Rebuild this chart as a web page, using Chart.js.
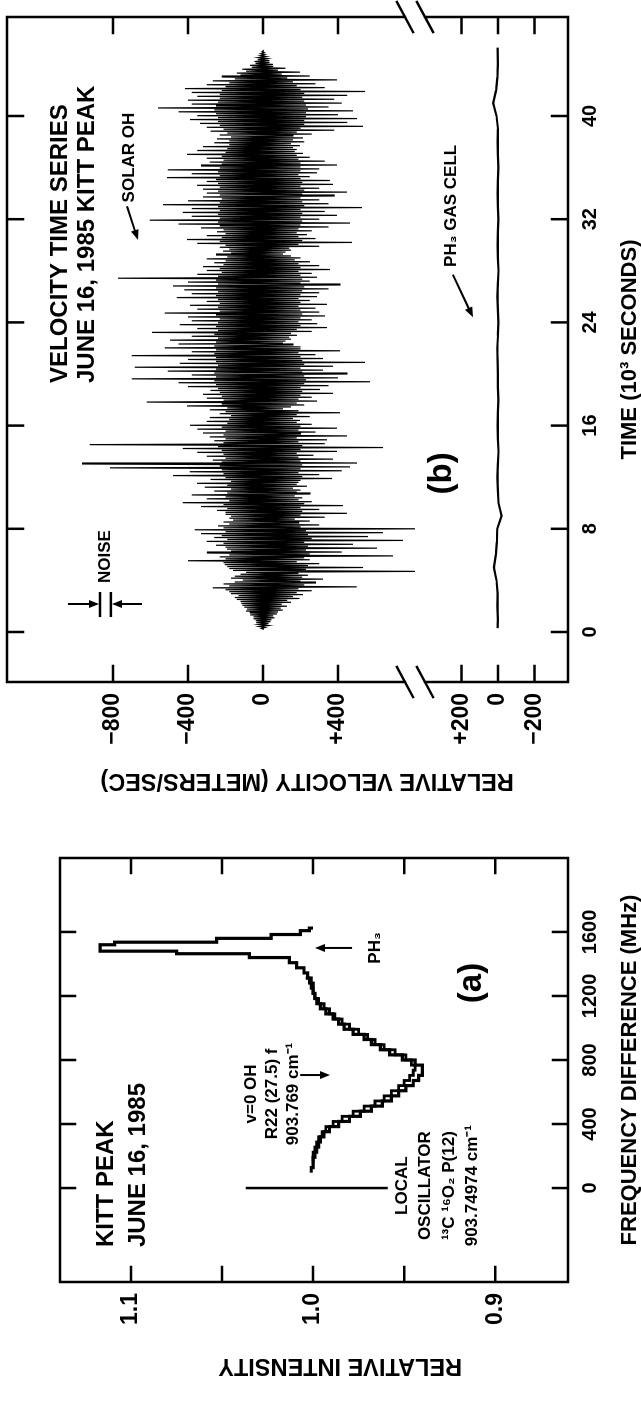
<!DOCTYPE html>
<html>
<head>
<meta charset="utf-8">
<title>Kitt Peak OH line and velocity time series</title>
<script src="https://cdn.jsdelivr.net/npm/chart.js@4.4.1/dist/chart.umd.min.js"></script>
<style>
  html, body { margin: 0; padding: 0; background: #fff; overflow: hidden; }
  /* the figure is laid out landscape and turned a quarter turn */
  #fig { position: absolute; left: 0; top: 0; width: 1427px; height: 641px;
         transform-origin: 0 0; transform: translateY(1427px) rotate(-90deg); }
  #chartA { position: absolute; left: 0; top: 0; }
  #chartB { position: absolute; left: 600px; top: 0; }
</style>
</head>
<body>
<div id="fig">
  <canvas id="chartA" width="600" height="641"></canvas>
  <canvas id="chartB" width="827" height="641"></canvas>
</div>
<script>
// ---- panel (a): line profile, frequency difference (MHz) vs relative intensity
const freqScan1 = [96,128,160,192,224,256,288,320,352,384,416,448,480,512,544,576,608,640,672,704,736,768,800,832,864,896,928,960,992,1024,1056,1088,1120,1152,1184,1216,1248,1280,1312,1344,1376,1408,1440,1464,1480,1520,1536,1560,1584,1608,1624];
const intensityScan1 = [1.001,1.000,1.000,0.999,0.998,0.997,0.996,0.994,0.991,0.986,0.980,0.974,0.968,0.962,0.957,0.953,0.949,0.945,0.942,0.940,0.940,0.944,0.951,0.958,0.963,0.968,0.972,0.978,0.983,0.986,0.989,0.993,0.996,0.998,0.999,1.000,1.000,1.001,1.003,1.005,1.009,1.013,1.035,1.075,1.117,1.109,1.053,1.023,1.007,1.002,1.000];
const freqScan2 = [160,192,224,256,288,320,352,384,416,448,480,512,544,576,608,640,672,704,736,768,800,832,864,896,928,960,992,1024,1056,1088,1120,1152,1184,1216,1248,1280,1312];
const intensityScan2 = [1.000,1.000,0.999,0.998,0.997,0.995,0.993,0.989,0.984,0.978,0.972,0.966,0.961,0.957,0.953,0.950,0.947,0.945,0.944,0.946,0.949,0.955,0.961,0.966,0.970,0.975,0.980,0.984,0.988,0.991,0.994,0.997,0.999,1.000,1.001,1.002,1.004];
const oscillatorLine = [{x: 0, y: 1.037}, {x: 0, y: 0.959}];

const freqTicks = [0, 400, 800, 1200, 1600];
const freqTickLabels = ['0', '400', '800', '1200', '1600'];
const intensityTicks = [0.9, 0.95, 1.0, 1.05, 1.1];
const intensityTickLabels = ['0.9', '', '1.0', '', '1.1'];

// ---- panel (b): velocity time series, time in 10^3 s, one sample every 75 s
const solarT0 = 0.2, solarDt = 0.075;
const solarVel = [
  5,-8,12,-20,28,-22,30,-35,40,-38,45,-50,62,-50,55,-68,75,-70,80,-90,105,-85,95,-100,128,-110,100,-115,150,-120,130,-140,195,-150,160,-130,213,-170,180,-180,
  260,-200,190,-267,500,-180,220,-210,280,-150,200,-107,320,-170,210,-150,240,-120,190,-90,821,-160,230,-180,533,-190,240,-203,300,-210,180,-400,250,-200,220,-230,693,-180,250,-299,
  420,-170,230,-192,608,-200,240,-250,480,-210,220,-299,747,-190,260,-260,560,-220,240,-330,640,-200,230,-363,837,-210,200,-240,300,-180,190,-210,250,-160,170,-180,330,-170,200,-200,
  448,-200,210,-245,300,-190,200,-330,427,-210,220,-427,260,-180,190,-300,210,-200,170,-379,251,-190,180,-260,200,-170,160,-310,235,-190,180,-352,190,-170,200,-280,368,-200,210,-480,
  300,-210,190,-390,420,-220,200,-816,464,-230,210,-965,501,-220,200,-267,373,-200,190,-300,270,-210,180,-350,395,-220,200,-427,640,-240,210,-923,330,-210,190,-260,341,-200,180,-283,
  448,-210,200,-320,280,-200,190,-350,395,-220,200,-389,260,-190,180,-300,197,-180,160,-283,250,-170,180,-230,411,-200,190,-283,107,-190,150,-405,220,-220,180,-619,288,-210,190,-300,
  260,-220,200,-320,373,-230,210,-280,304,-240,200,-400,350,-250,220,-450,571,-260,230,-699,400,-250,220,-380,448,-260,210,-507,320,-250,200,-683,373,-240,220,-443,544,-250,210,-400,
  320,-250,200,-699,280,-260,190,-380,411,-250,200,-523,200,-260,160,-450,107,-250,120,-496,150,-240,140,-380,181,-260,150,-592,260,-240,180,-350,341,-250,200,-443,290,-240,190,-380,
  260,-230,200,-400,331,-250,210,-523,300,-230,200,-350,280,-240,190,-389,341,-230,200,-300,250,-240,190,-459,288,-250,200,-380,300,-240,210,-420,350,-250,220,-480,411,-240,200,-400,
  250,-250,210,-773,288,-240,200,-350,260,-220,190,-300,357,-230,200,-320,300,-210,190,-260,251,-200,170,-299,200,-190,150,-250,107,-170,120,-213,150,-180,140,-230,300,-200,190,-350,
  475,-230,210,-405,280,-220,190,-300,235,-200,180,-245,260,-210,190,-330,350,-230,200,-450,464,-240,210,-603,300,-230,200,-380,395,-240,210,-427,330,-230,200,-380,528,-240,220,-533,
  350,-230,210,-400,300,-220,200,-320,380,-230,210,-300,448,-240,220,-320,300,-230,200,-352,373,-240,210,-300,357,-250,200,-512,250,-230,190,-380,288,-240,200,-507,300,-230,200,-330,
  395,-220,200,-283,330,-210,190,-300,250,-220,180,-405,213,-200,170,-350,180,-190,160,-320,197,-180,150,-260,220,-180,160,-245,213,-170,160,-230,260,-190,180,-280,380,-210,200,-300,
  533,-230,220,-336,450,-240,220,-389,501,-240,230,-350,400,-250,230,-450,480,-260,240,-560,350,-250,230,-380,420,-240,220,-400,380,-230,210,-350,450,-230,220,-380,544,-220,200,-416,
  330,-200,180,-300,280,-180,160,-267,395,-150,130,-220,250,-120,100,-139,197,-90,80,-110,120,-60,55,-69,53,-40,35,-45,35,-28,22,-25,18,-14,10,-12,8,-5,3,0
];
const ph3Time = [0.3,1,2,3,4,5,6,7,8,9,10,11,12,13,14,15,16,17,18,19,20,21,22,23,24,25,26,27,28,29,30,31,32,33,34,35,36,37,38,39,40,41,42,43,44,45.3];
const ph3Vel = [2,0,3,2,8,22,12,6,4,-20,-3,0,3,0,-3,0,2,0,-2,1,0,2,4,0,-2,0,3,0,-3,0,2,0,-2,0,2,1,-2,0,2,0,8,26,10,3,0,2];

const timeTicks = [0, 8, 16, 24, 32, 40];
const timeTickLabels = ['0', '8', '16', '24', '32', '40'];
const solarTicks = [-800, -400, 0, 400];
const solarTickLabels = ['\u2212800', '\u2212400', '0', '+400'];
const ph3Ticks = [200, 0, -200];
const ph3TickLabels = ['+200', '0', '\u2212200'];

const FONT = "'Liberation Sans', Arial, Helvetica, sans-serif";
Chart.defaults.font.family = FONT;
Chart.defaults.color = '#000';

function drawArrow(ctx, x1, y1, x2, y2) {
  const a = Math.atan2(y2 - y1, x2 - x1), h = 10, w = 4;
  ctx.lineWidth = 2;
  ctx.beginPath();
  ctx.moveTo(x1, y1);
  ctx.lineTo(x2 - 0.8 * h * Math.cos(a), y2 - 0.8 * h * Math.sin(a));
  ctx.stroke();
  ctx.beginPath();
  ctx.moveTo(x2, y2);
  ctx.lineTo(x2 - h * Math.cos(a) + w * Math.sin(a), y2 - h * Math.sin(a) - w * Math.cos(a));
  ctx.lineTo(x2 - h * Math.cos(a) - w * Math.sin(a), y2 - h * Math.sin(a) + w * Math.cos(a));
  ctx.closePath();
  ctx.fill();
}

// labels, arrows and marks placed in data coordinates
function notesPlugin(yId, items) {
  return {
    id: 'notes',
    afterDatasetsDraw(chart) {
      const ctx = chart.ctx, sx = chart.scales.x, sy = chart.scales[yId];
      const px = v => sx.getPixelForValue(v), py = v => sy.getPixelForValue(v);
      ctx.save();
      ctx.fillStyle = '#000';
      ctx.strokeStyle = '#000';
      ctx.textBaseline = 'middle';
      for (const n of items) {
        if (n.text) {
          ctx.font = n.font;
          ctx.textAlign = n.align;
          ctx.fillText(n.text, px(n.x), py(n.y));
        } else if (n.arrow) {
          drawArrow(ctx, px(n.x1), py(n.y1), px(n.x2), py(n.y2));
        } else {
          ctx.lineWidth = 2.5;
          ctx.beginPath();
          ctx.moveTo(px(n.x1), py(n.y1));
          ctx.lineTo(px(n.x2), py(n.y2));
          ctx.stroke();
        }
      }
      ctx.restore();
    }
  };
}

// box round the plot with inward ticks on all four sides
function framePlugin(axisIds, len, breakAxis) {
  return {
    id: 'frame',
    afterDatasetsDraw(chart) {
      const { ctx, chartArea: a } = chart;
      ctx.save();
      ctx.strokeStyle = '#000';
      ctx.lineWidth = 2.5;
      ctx.lineCap = 'square';
      ctx.beginPath();
      for (const id of axisIds) {
        const s = chart.scales[id];
        for (const t of s.ticks) {
          const p = s.getPixelForValue(t.value);
          if (s.isHorizontal()) {
            ctx.moveTo(p, a.top); ctx.lineTo(p, a.top + len);
            ctx.moveTo(p, a.bottom); ctx.lineTo(p, a.bottom - len);
          } else {
            ctx.moveTo(a.left, p); ctx.lineTo(a.left + len, p);
            ctx.moveTo(a.right, p); ctx.lineTo(a.right - len, p);
          }
        }
      }
      ctx.moveTo(a.left, a.top); ctx.lineTo(a.right, a.top);
      ctx.moveTo(a.left, a.bottom); ctx.lineTo(a.right, a.bottom);
      if (breakAxis) {
        const b = chart.scales[breakAxis].bottom;
        for (const x of [a.left, a.right]) {
          ctx.moveTo(x, a.top); ctx.lineTo(x, b - 10);
          ctx.moveTo(x, b + 10); ctx.lineTo(x, a.bottom);
          ctx.moveTo(x + 15, b - 18); ctx.lineTo(x - 15, b - 2);
          ctx.moveTo(x + 15, b + 2); ctx.lineTo(x - 15, b + 18);
        }
      } else {
        ctx.moveTo(a.left, a.top); ctx.lineTo(a.left, a.bottom);
        ctx.moveTo(a.right, a.top); ctx.lineTo(a.right, a.bottom);
      }
      ctx.stroke();
      ctx.restore();
    }
  };
}

const noPad = s => { s.paddingTop = 0; s.paddingBottom = 0; s.paddingLeft = 0; s.paddingRight = 0; };
const hidden = { display: false, drawTicks: false };
const xTickFont = { size: 20, weight: 'bold' };
const yTickFont = { size: 23, weight: 'bold' };

const B24 = 'bold 24px ' + FONT, B17 = 'bold 17px ' + FONT, B33 = 'bold 33px ' + FONT;

new Chart(document.getElementById('chartA'), {
  type: 'line',
  data: {
    datasets: [
      { data: freqScan1.map((f, i) => ({ x: f, y: intensityScan1[i] })), stepped: true,
        borderColor: '#000', borderWidth: 3.2, pointRadius: 0 },
      { data: freqScan2.map((f, i) => ({ x: f, y: intensityScan2[i] })), stepped: true,
        borderColor: '#000', borderWidth: 2.8, pointRadius: 0 },
      { data: oscillatorLine, borderColor: '#000', borderWidth: 2.5, pointRadius: 0 }
    ]
  },
  options: {
    responsive: false, animation: false, events: [],
    layout: { autoPadding: false, padding: { left: 0, right: 31, top: 60, bottom: 0 } },
    plugins: { legend: { display: false }, tooltip: { enabled: false } },
    scales: {
      x: {
        type: 'linear', min: -587, max: 2062,
        grid: hidden, border: { display: false },
        afterBuildTicks: s => { s.ticks = freqTicks.map(v => ({ value: v })); },
        ticks: { autoSkip: false, maxRotation: 0, padding: 10, font: xTickFont,
                 callback: (v, i) => freqTickLabels[i] },
        title: { display: true, text: 'FREQUENCY DIFFERENCE (MHz)', padding: 0,
                 font: { size: 22, weight: 'bold', lineHeight: 1 } },
        afterFit: s => { s.height = 73; noPad(s); }
      },
      y: {
        type: 'linear', min: 0.86, max: 1.139,
        grid: hidden, border: { display: false },
        afterBuildTicks: s => { s.ticks = intensityTicks.map(v => ({ value: v })); },
        ticks: { autoSkip: false, padding: 11, font: yTickFont,
                 callback: (v, i) => intensityTickLabels[i] },
        title: { display: true, text: 'RELATIVE INTENSITY        ', padding: { top: 50, bottom: 0 },
                 font: { size: 23.5, weight: 'bold', lineHeight: 1 } },
        afterFit: s => { s.width = 145; noPad(s); }
      }
    }
  },
  plugins: [
    framePlugin(['x', 'y'], 15),
    notesPlugin('y', [
      { text: 'KITT PEAK', x: -369, y: 1.1137, font: B24, align: 'left' },
      { text: 'JUNE 16, 1985', x: -369, y: 1.0962, font: B24, align: 'left' },
      { text: 'v=0 OH', x: 588, y: 1.0341, font: B17, align: 'center' },
      { text: 'R22 (27.5) f', x: 588, y: 1.0225, font: B17, align: 'center' },
      { text: '903.769 cm\u207B\u00B9', x: 588, y: 1.0108, font: B17, align: 'center' },
      { arrow: true, x1: 706, y1: 1.0071, x2: 706, y2: 0.9907 },
      { text: 'LOCAL', x: 15, y: 0.9511, font: B17, align: 'center' },
      { text: 'OSCILLATOR', x: 15, y: 0.9382, font: B17, align: 'center' },
      { text: '\u00B9\u00B3C \u00B9\u2076O\u2082 P(12)', x: 15, y: 0.9253, font: B17, align: 'center' },
      { text: '903.74974 cm\u207B\u00B9', x: 15, y: 0.9124, font: B17, align: 'center' },
      { arrow: true, x1: 1500, y1: 0.9786, x2: 1500, y2: 0.9989 },
      { text: 'PH\u2083', x: 1500, y: 0.9659, font: B17, align: 'center' },
      { text: '(a)', x: 1281, y: 0.9126, font: B33, align: 'center' }
    ])
  ]
});

new Chart(document.getElementById('chartB'), {
  type: 'line',
  data: {
    datasets: [
      { data: solarVel.map((v, i) => ({ x: solarT0 + i * solarDt, y: v })), yAxisID: 'yUp',
        borderColor: '#000', borderWidth: 1.2, pointRadius: 0 },
      { data: ph3Time.map((t, i) => ({ x: t, y: ph3Vel[i] })), yAxisID: 'yLow',
        borderColor: '#000', borderWidth: 2.2, pointRadius: 0 }
    ]
  },
  options: {
    responsive: false, animation: false, events: [],
    layout: { autoPadding: false, padding: { left: 0, right: 17, top: 7, bottom: 0 } },
    plugins: { legend: { display: false }, tooltip: { enabled: false } },
    scales: {
      x: {
        type: 'linear', min: -3.876, max: 47.674,
        grid: hidden, border: { display: false },
        afterBuildTicks: s => { s.ticks = timeTicks.map(v => ({ value: v })); },
        ticks: { autoSkip: false, maxRotation: 0, padding: 10, font: xTickFont,
                 callback: (v, i) => timeTickLabels[i] },
        title: { display: true, text: 'TIME (10\u00B3 SECONDS)', padding: 0,
                 font: { size: 22, weight: 'bold', lineHeight: 1 } },
        afterFit: s => { s.height = 73; noPad(s); }
      },
      yLow: {
        type: 'linear', position: 'left', stack: 'vel', stackWeight: 153, min: -384, max: 455,
        grid: hidden, border: { display: false },
        afterBuildTicks: s => { s.ticks = ph3Ticks.map(v => ({ value: v })); },
        ticks: { autoSkip: false, padding: 11, font: yTickFont, callback: (v, i) => ph3TickLabels[i] },
        afterFit: s => { s.width = 75; noPad(s); }
      },
      yUp: {
        type: 'linear', position: 'left', stack: 'vel', stackWeight: 408, reverse: true, min: -1365, max: 811,
        grid: hidden, border: { display: false },
        afterBuildTicks: s => { s.ticks = solarTicks.map(v => ({ value: v })); },
        ticks: { autoSkip: false, padding: 11, font: yTickFont, callback: (v, i) => solarTickLabels[i] },
        afterFit: s => { s.width = 75; noPad(s); }
      },
      yTitle: {
        type: 'linear', position: 'left', min: 0, max: 1,
        grid: hidden, border: { display: false }, ticks: { display: false },
        title: { display: true, text: 'RELATIVE VELOCITY (METERS/SEC)      ', padding: { top: 35, bottom: 0 },
                 font: { size: 23.5, weight: 'bold', lineHeight: 1 } },
        afterFit: s => { s.width = 70; noPad(s); }
      }
    }
  },
  plugins: [
    framePlugin(['x', 'yUp', 'yLow'], 16, 'yUp'),
    notesPlugin('yUp', [
      { text: 'VELOCITY TIME SERIES', x: 19.3, y: -1083, font: B24, align: 'left' },
      { text: 'JUNE 16, 1985 KITT PEAK', x: 19.3, y: -939, font: B24, align: 'left' },
      { text: 'SOLAR OH', x: 33.3, y: -712, font: B17, align: 'left' },
      { arrow: true, x1: 33.0, y1: -725, x2: 30.4, y2: -667 },
      { text: 'PH\u2083 GAS CELL', x: 28.3, y: 1003, font: B17, align: 'left' },
      { arrow: true, x1: 27.7, y1: 1013, x2: 24.4, y2: 1120 },
      { text: '(b)', x: 12.3, y: 955, font: B33, align: 'center' },
      { text: 'NOISE', x: 3.8, y: -843, font: B17, align: 'left' },
      { x1: 1.16, y1: -869, x2: 3.1, y2: -869 },
      { x1: 1.16, y1: -811, x2: 3.1, y2: -811 },
      { arrow: true, x1: 2.17, y1: -1040, x2: 2.17, y2: -875 },
      { arrow: true, x1: 2.17, y1: -645, x2: 2.17, y2: -805 }
    ])
  ]
});
</script>
</body>
</html>
